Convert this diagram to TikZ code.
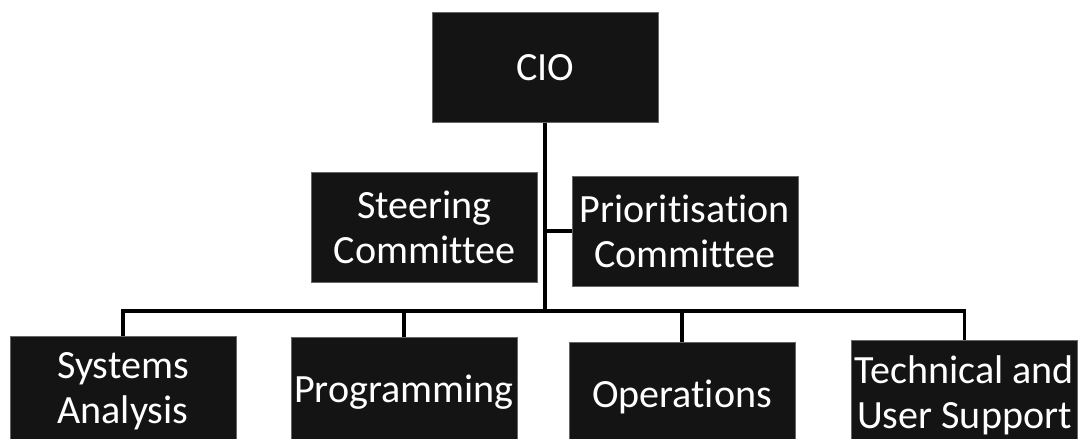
\documentclass[tikz,border=0pt]{standalone}
\usepackage{fontspec}
\setmainfont[Ligatures=NoCommon]{Carlito}

\begin{document}
\begin{tikzpicture}[
			every node/.style={font=\fontsize{28.5}{32}\selectfont},
			unit/.style={
				rectangle,
				minimum width=5.65cm,
				minimum height=2.75cm,
				inner sep=0pt,
				text centered,
				align=center,
				fill=black!92,
				draw=black!60,
				text=white
			},
			link/.style={line width=2.5pt}
			]
			
			\clip (0,0) rectangle (26.95,-10.975);
			
			% Nodes
			\node (cio) [unit] at (13.625,-1.69) {CIO};
			\node (steering) [unit] at (10.61,-5.68) {Steering\\Committee};
			\node (prio) [unit] at (17.125,-5.78) {Prioritisation\\Committee};
			
			\node (sysan) [unit] at (3.075,-9.78) {Systems\\Analysis};
			\node (prog) [unit] at (10.1,-9.8) {Programming};
			\node (ops) [unit] at (17.05,-9.93) {Operations};
			\node (tech) [unit] at (24.11,-9.88) {Technical and\\User Support};
			
			\coordinate (hub) at (13.625,-7.775);
			
			% Lines
			\draw [link] (cio.south) -- (hub);
			\draw [link] (cio.south |- prio.west) -- (prio.west);
			\draw [link] (hub) -| (sysan.north);
			\draw [link] (hub) -| (prog.north);
			\draw [link] (hub) -| (ops.north);
			\draw [link] (hub) -| (tech.north);
			
		\end{tikzpicture}
\end{document}
